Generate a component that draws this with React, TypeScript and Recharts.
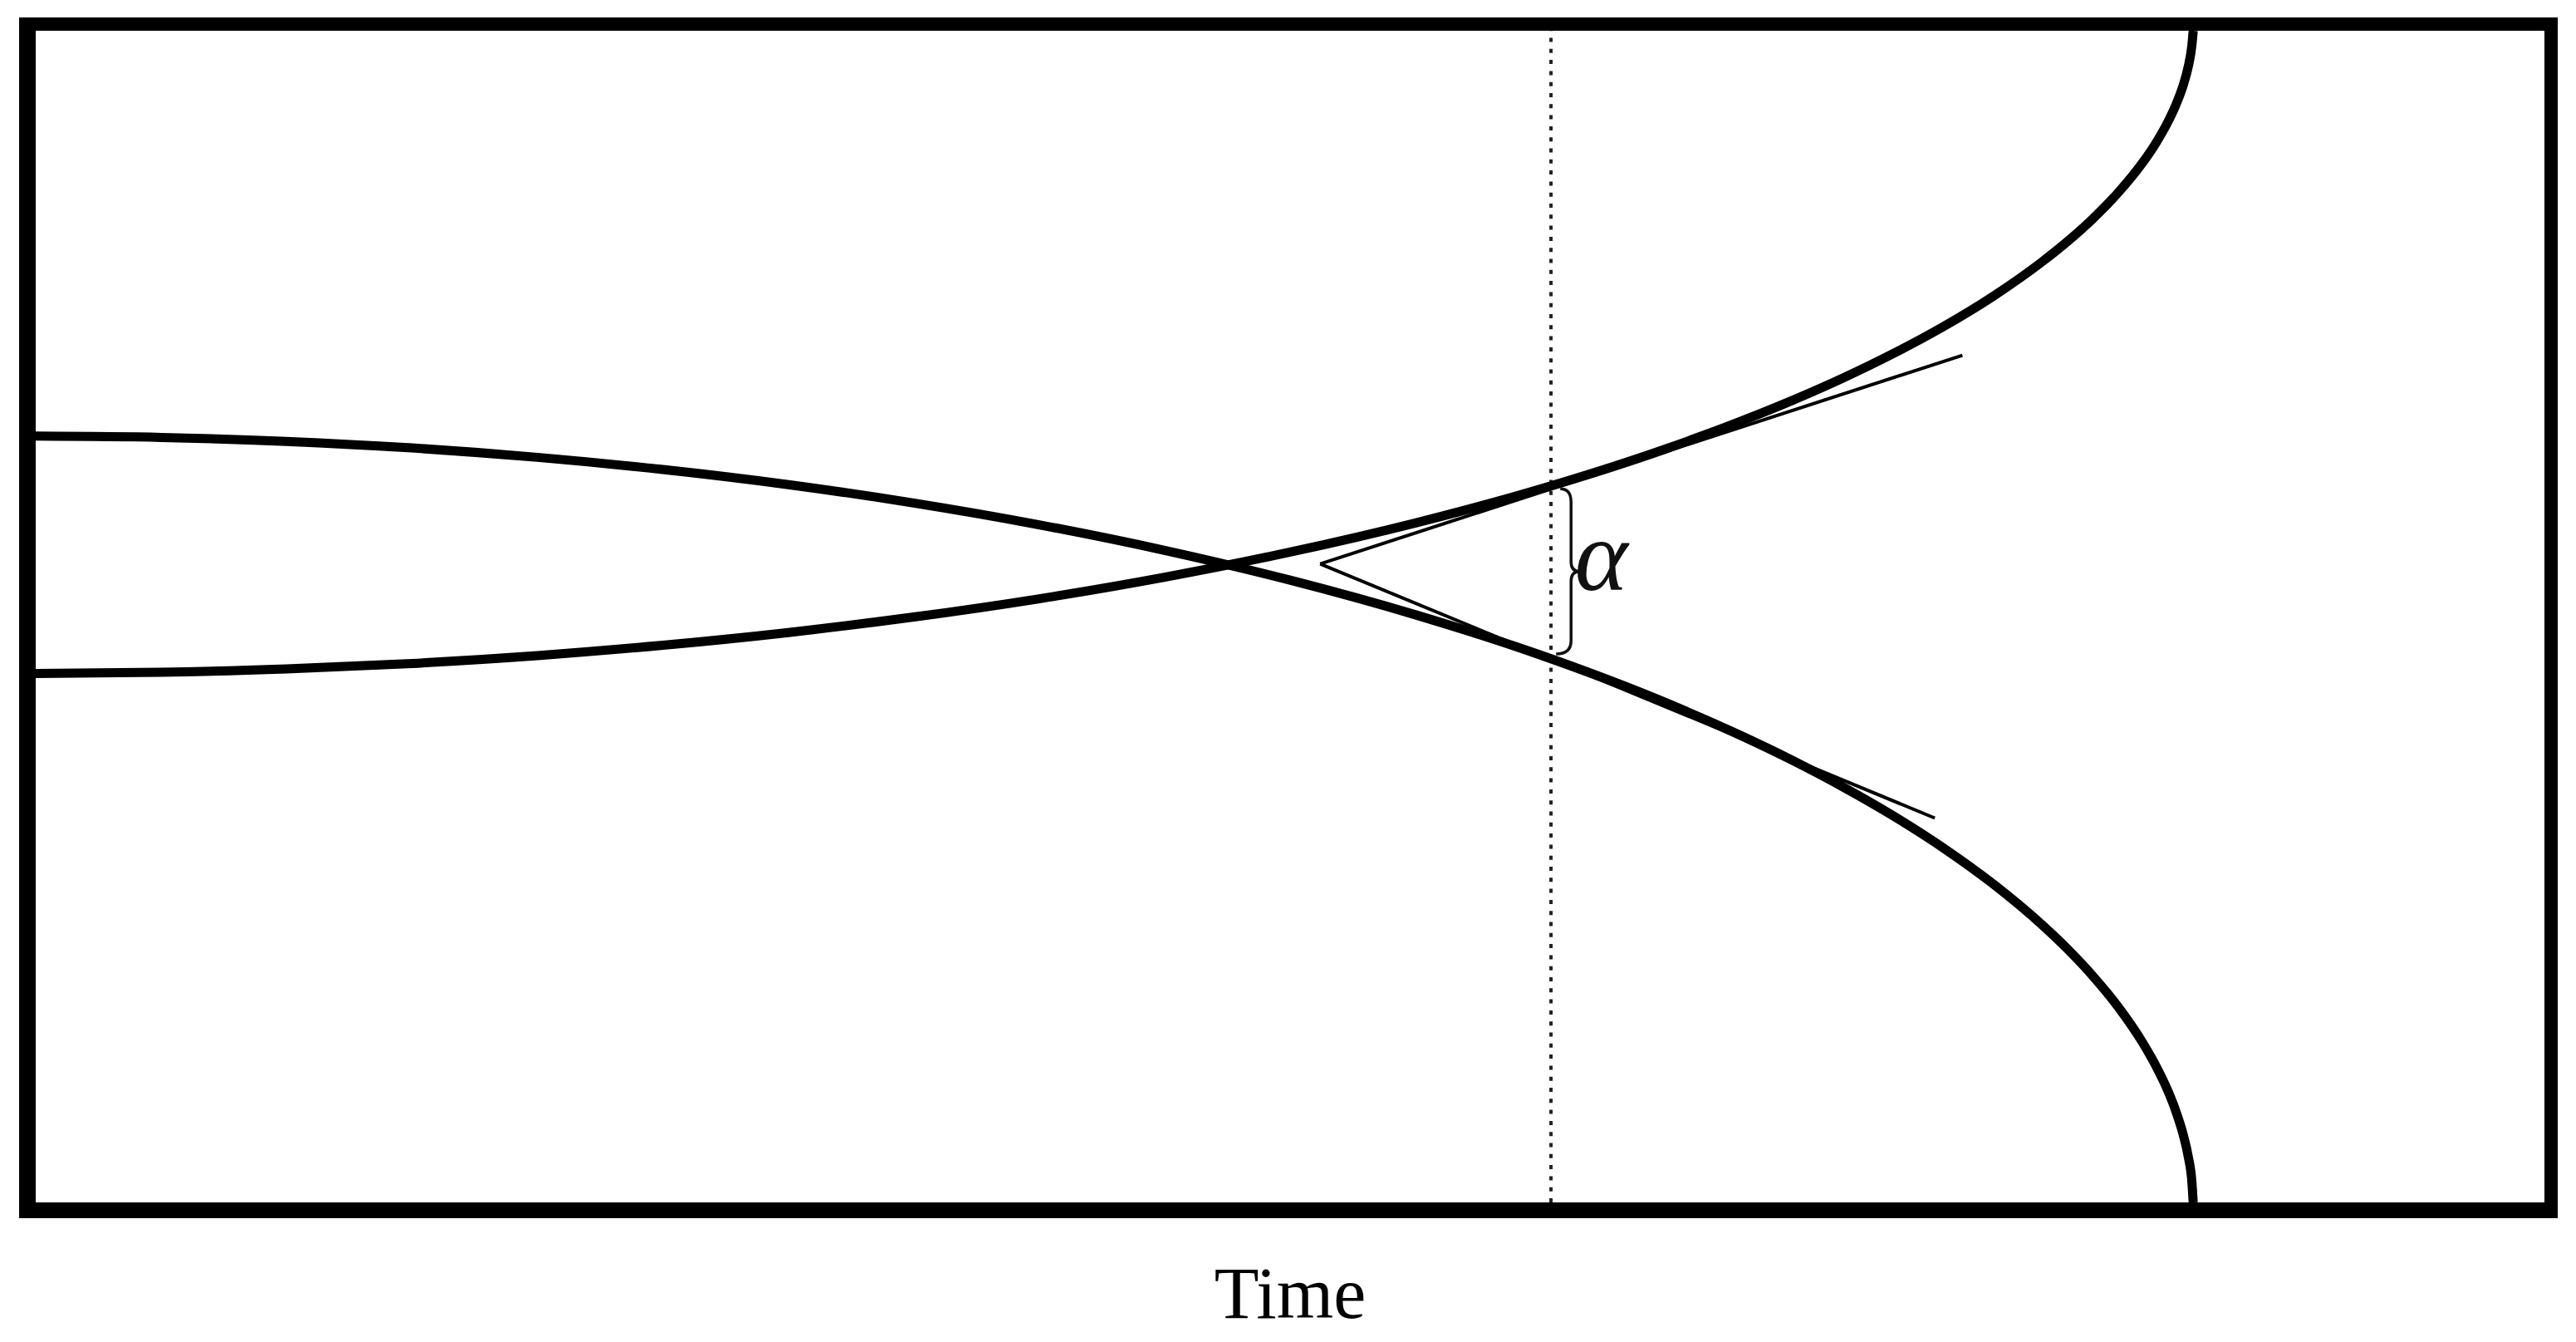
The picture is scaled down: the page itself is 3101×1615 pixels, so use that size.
import { LineChart, Line, XAxis, YAxis, ReferenceLine, ReferenceDot } from "recharts";

// time samples (0..100 across the frame) and the two curves
const TIME = [0, 5, 10, 15, 20, 25, 30, 35, 40, 45, 50, 55, 60, 65, 70, 72, 74, 76, 78, 80, 81, 82, 83, 84, 84.5, 85, 85.3, 85.6, 85.8, 85.95, 86];
const RISING = [45.15, 45.24, 45.53, 46.0, 46.67, 47.55, 48.64, 49.96, 51.52, 53.36, 55.5, 57.99, 60.9, 64.33, 68.43, 70.32, 72.4, 74.7, 77.3, 80.32, 82.04, 83.96, 86.16, 88.79, 90.37, 92.26, 93.63, 95.35, 96.92, 98.81, 100];
const FALLING = [65.4, 65.29, 64.95, 64.39, 63.59, 62.55, 61.26, 59.69, 57.83, 55.65, 53.11, 50.15, 46.7, 42.63, 37.76, 35.51, 33.05, 30.31, 27.22, 23.64, 21.6, 19.32, 16.71, 13.58, 11.7, 9.47, 7.83, 5.79, 3.93, 1.68, 0];

// tangent segments that meet at a common apex, the measuring line and the alpha gap
const APEX = { x: 51.2, y: 54.5 };
const UPPER_TANGENT_END = { x: 76.8, y: 72.3 };
const LOWER_TANGENT_END = { x: 75.7, y: 32.8 };
const MEASURE_TIME = 60.4;
const BRACE = { x: 61.2, top: 60.9, bottom: 46.8 };
const ALPHA = { x: 62.4, y: 52.3, text: "α" };
const X_LABEL = "Time";

const data = TIME.map((t, i) => ({ t, rising: RISING[i], falling: FALLING[i] }));

const Brace = (props: any) => {
  const { x1, y1, y2 } = props;
  const x = x1;
  const top = Math.min(y1, y2);
  const bot = Math.max(y1, y2);
  const mid = (top + bot) / 2;
  const d = `M ${x - 13} ${top} Q ${x} ${top} ${x} ${top + 16} L ${x} ${mid - 12} Q ${x} ${mid} ${x + 10} ${mid} Q ${x} ${mid} ${x} ${mid + 12} L ${x} ${bot - 16} Q ${x} ${bot} ${x - 18} ${bot}`;
  return <path d={d} fill="none" stroke="#111" strokeWidth={3.5} />;
};

const AlphaText = (props: any) => (
  <text
    x={props.cx}
    y={props.cy}
    textAnchor="middle"
    fontFamily="'Liberation Serif', serif"
    fontStyle="italic"
    fontSize={122}
    fill="#111"
  >
    {ALPHA.text}
  </text>
);

const TimeLabel = (props: any) => {
  const vb = props.viewBox || {};
  return (
    <text
      x={vb.x + vb.width / 2}
      y={vb.y + 139}
      textAnchor="middle"
      fontFamily="'Liberation Serif', serif"
      fontSize={88}
      fill="#000"
    >
      {X_LABEL}
    </text>
  );
};

export default function App() {
  return (
    <div style={{ position: "absolute", left: 0, top: 0, width: 3101, height: 1615, background: "#fff" }}>
      <LineChart
        width={3101}
        height={1615}
        data={data}
        margin={{ top: 37, right: 38, left: 43, bottom: 0 }}
      >
        <XAxis
          dataKey="t"
          type="number"
          domain={[0, 100]}
          tick={false}
          tickLine={false}
          axisLine={false}
          height={168}
          label={<TimeLabel />}
        />
        <YAxis type="number" domain={[0, 100]} hide />
        <ReferenceLine x={MEASURE_TIME} stroke="#222" strokeWidth={4} strokeDasharray="5 8.3" />
        <ReferenceLine
          segment={[APEX, UPPER_TANGENT_END]}
          stroke="#000"
          strokeWidth={4}
        />
        <ReferenceLine
          segment={[APEX, LOWER_TANGENT_END]}
          stroke="#000"
          strokeWidth={4}
        />
        <ReferenceLine
          segment={[{ x: BRACE.x, y: BRACE.top }, { x: BRACE.x, y: BRACE.bottom }]}
          shape={Brace}
        />
        <ReferenceDot x={ALPHA.x} y={ALPHA.y} r={0} shape={AlphaText} />
        <Line
          type="monotoneX"
          dataKey="rising"
          stroke="#000"
          strokeWidth={11}
          dot={false}
          isAnimationActive={false}
        />
        <Line
          type="monotoneX"
          dataKey="falling"
          stroke="#000"
          strokeWidth={11}
          dot={false}
          isAnimationActive={false}
        />
      </LineChart>
      <div
        style={{
          position: "absolute",
          left: 23,
          top: 21,
          width: 3056,
          height: 1445,
          boxSizing: "border-box",
          borderStyle: "solid",
          borderColor: "#000",
          borderWidth: "16px 16px 19px 20px",
          pointerEvents: "none",
        }}
      />
    </div>
  );
}
